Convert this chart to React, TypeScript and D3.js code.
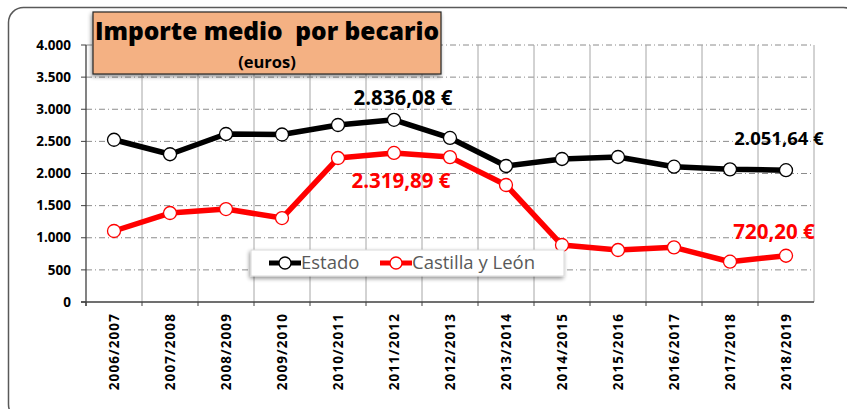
import React from 'react';
import * as d3 from 'd3';

const cursos = ['2006/2007', '2007/2008', '2008/2009', '2009/2010', '2010/2011', '2011/2012', '2012/2013',
                '2013/2014', '2014/2015', '2015/2016', '2016/2017', '2017/2018', '2018/2019'];
const estado = [2525, 2300, 2615, 2607, 2755, 2836.08, 2553, 2117, 2226, 2257, 2106, 2065, 2051.64];
const castilla = [1105, 1385, 1447, 1307, 2241, 2319.89, 2255, 1821, 887, 809, 851, 627, 720.2];
const yTicks = [0, 500, 1000, 1500, 2000, 2500, 3000, 3500, 4000];

const FONT = "'Open Sans', 'Noto Sans', sans-serif";
const fmt = (v: number) => d3.format(',')(v).replace(/,/g, '.');

export default function App() {
    const left = 86, right = 814, top = 45, bottom = 302;
    const x = d3.scaleBand().domain(cursos).range([left, right]);
    const y = d3.scaleLinear().domain([0, 4000]).range([bottom, top]);
    const cx = (i: number) => x(cursos[i])! + x.bandwidth() / 2;
    const line = d3.line<number>().x((d, i) => cx(i)).y(d => y(d));

    const series = [
        { name: 'Estado', data: estado, color: '#000000', lx: 269 },
        { name: 'Castilla y León', data: castilla, color: '#ff0000', lx: 380 },
    ];

    return (
        <svg width={847} height={409} style={{ position: 'absolute', left: 0, top: 0 }}>
            <defs>
                <filter id="sh" x="-10%" y="-20%" width="120%" height="150%">
                    <feGaussianBlur in="SourceAlpha" stdDeviation="2" />
                    <feOffset dx="-1" dy="2" result="b" />
                    <feComponentTransfer><feFuncA type="linear" slope="0.45" /></feComponentTransfer>
                    <feMerge><feMergeNode /><feMergeNode in="SourceGraphic" /></feMerge>
                </filter>
            </defs>
            <rect x={0} y={0} width={847} height={409} fill="#fff" />
            <rect x={8.5} y={7.5} width={850} height={412} rx={15} fill="#fff" stroke="#595959" strokeWidth={1.5} />

            {/* grid */}
            {yTicks.filter(t => t > 0).map(t => (
                <line key={t} x1={left} x2={right} y1={y(t)} y2={y(t)} stroke="#8c8c8c" strokeWidth={1}
                      strokeDasharray="6 3 1 3" />
            ))}
            {cursos.map(c => (
                <line key={c} x1={x(c)! + x.bandwidth()} x2={x(c)! + x.bandwidth()} y1={top} y2={bottom}
                      stroke="#a6a6a6" strokeWidth={1} />
            ))}
            {/* axes */}
            <line x1={left} x2={left} y1={top} y2={bottom + 4} stroke="#404040" strokeWidth={1.3} />
            <line x1={left - 5} x2={right} y1={bottom} y2={bottom} stroke="#404040" strokeWidth={1.3} />
            {yTicks.map(t => (
                <g key={t}>
                    <line x1={left - 5} x2={left} y1={y(t)} y2={y(t)} stroke="#404040" />
                    <text x={71} y={y(t)} dy="0.35em" textAnchor="end" fontFamily={FONT} fontWeight="bold"
                          fontSize={13.5} fill="#000">{fmt(t)}</text>
                </g>
            ))}
            {cursos.map((c, i) => (
                <g key={c}>
                    <line x1={x(c)!} x2={x(c)!} y1={bottom} y2={bottom + 4} stroke="#404040" />
                    <text transform={`translate(${cx(i)},${bottom + 11}) rotate(-90)`} dy="0.36em" textAnchor="end"
                          fontFamily={FONT} fontWeight="bold" fontSize={13.5} letterSpacing={1.1} fill="#000">{c}</text>
                </g>
            ))}

            {/* series */}
            {series.map(s => (
                <g key={s.name}>
                    <path d={line(s.data)!} fill="none" stroke={s.color} strokeWidth={5.5} strokeLinejoin="round" />
                    {s.data.map((v, i) => (
                        <circle key={i} cx={cx(i)} cy={y(v)} r={6.5} fill="#fff" stroke={s.color} strokeWidth={1.3} />
                    ))}
                </g>
            ))}

            {/* labels */}
            <text x={403} y={105} textAnchor="middle" fontFamily={FONT} fontWeight="bold" fontSize={20.5}>2.836,08 €</text>
            <text x={779} y={145} textAnchor="middle" fontFamily={FONT} fontWeight="bold" fontSize={18.5}>2.051,64 €</text>
            <text x={401} y={188} textAnchor="middle" fontFamily={FONT} fontWeight="bold" fontSize={20.5} fill="#ff0000">2.319,89 €</text>
            <text x={774} y={239} textAnchor="middle" fontFamily={FONT} fontWeight="bold" fontSize={20.5} fill="#ff0000">720,20 €</text>

            {/* legend */}
            <g filter="url(#sh)">
                <rect x={251} y={250} width={313} height={26} fill="#fff" stroke="#d9d9d9" />
            </g>
            {series.map(s => (
                <g key={s.name}>
                    <line x1={s.lx} x2={s.lx + 32} y1={263} y2={263} stroke={s.color} strokeWidth={5} />
                    <circle cx={s.lx + 16} cy={263} r={6} fill="#fff" stroke={s.color} strokeWidth={1.3} />
                    <text x={s.lx + 32} y={263} dy="0.35em" fontFamily={FONT} fontSize={18.5} fill="#595959">{s.name}</text>
                </g>
            ))}

            {/* title */}
            <g filter="url(#sh)">
                <rect x={93} y={12} width={348} height={62} fill="#f4b183" stroke="#262626" strokeWidth={1.2} />
            </g>
            <text x={267} y={40} textAnchor="middle" fontFamily={FONT} fontWeight={800} fontSize={24.5}
                  style={{ whiteSpace: 'pre' }}>{'Importe medio  por becario'}</text>
            <text x={267} y={68} textAnchor="middle" fontFamily={FONT} fontWeight="bold" fontSize={16.5}>(euros)</text>
        </svg>
    );
}
